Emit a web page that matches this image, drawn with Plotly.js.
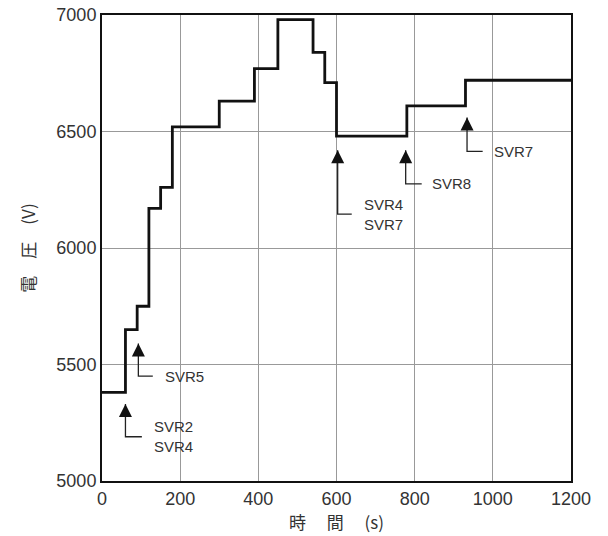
<!DOCTYPE html>
<html>
<head>
<meta charset="utf-8">
<script src="https://cdn.plot.ly/plotly-3.0.1.min.js"></script>
<style>html,body{margin:0;padding:0;background:#fff;}</style>
</head>
<body>
<div id="chart" style="width:608px;height:536px;"></div>
<script>
// Step changes of the voltage (time in s, voltage in V)
const times = [0, 60, 90, 120, 150, 180, 300, 390, 450, 540, 570, 600, 780, 930, 1200];
const volts = [5380, 5650, 5750, 6170, 6260, 6520, 6630, 6770, 6980, 6840, 6710, 6480, 6610, 6720, 6720];

// SVR operation markers
const markerLabels = ['SVR2<br>SVR4', 'SVR5', 'SVR4<br>SVR7', 'SVR8', 'SVR7'];
const markerTime   = [60, 93, 603, 777, 934];
const markerHeadV  = [5330, 5590, 6420, 6420, 6560];
const markerTailV  = [5190, 5450, 6145, 6275, 6415];
const markerElbowT = [102, 130, 639, 818, 974];
const markerTextT  = [128, 156, 665, 839, 997];

const xTicks = [0, 200, 400, 600, 800, 1000, 1200];
const yTicks = [5000, 5500, 6000, 6500, 7000];

const traces = [{
  x: times, y: volts, type: 'scatter', mode: 'lines',
  line: {shape: 'hv', color: '#111', width: 2.8},
  hoverinfo: 'skip', showlegend: false
}];

const annotations = [];
for (let i = 0; i < markerLabels.length; i++) {
  traces.push({
    x: [markerElbowT[i], markerTime[i], markerTime[i]],
    y: [markerTailV[i], markerTailV[i], markerHeadV[i]],
    type: 'scatter', mode: 'lines',
    line: {color: '#222', width: 1.3},
    hoverinfo: 'skip', showlegend: false
  });
  traces.push({
    x: [markerTime[i]], y: [markerHeadV[i]],
    type: 'scatter', mode: 'markers',
    marker: {symbol: 'arrow-up', size: 13, color: '#111', line: {width: 0}},
    hoverinfo: 'skip', showlegend: false
  });
  annotations.push({
    x: markerTextT[i], y: markerTailV[i], xref: 'x', yref: 'y',
    text: markerLabels[i], showarrow: false,
    xanchor: 'left', yanchor: 'middle', align: 'left',
    font: {family: 'Liberation Sans, Arial, sans-serif', size: 15, color: '#333'}
  });
}

const layout = {
  width: 608, height: 536,
  margin: {l: 102, r: 37, t: 15, b: 55},
  paper_bgcolor: '#fff', plot_bgcolor: '#fff',
  showlegend: false,
  font: {family: 'Liberation Sans, Arial, sans-serif', color: '#333'},
  xaxis: {
    range: [0, 1200], tickvals: xTicks, ticktext: xTicks.map(String),
    showgrid: true, gridcolor: '#999', gridwidth: 1,
    zeroline: false, showline: true, linecolor: '#111', linewidth: 2, mirror: true,
    ticks: '', tickfont: {size: 18, color: '#333'},
    title: {text: '時　&nbsp;間　&nbsp;(s)', standoff: 10,
      font: {family: 'Noto Sans CJK JP, sans-serif', size: 17, color: '#333'}},
    automargin: false, fixedrange: true
  },
  yaxis: {
    range: [5000, 7000], tickvals: yTicks, ticktext: yTicks.map(String),
    showgrid: true, gridcolor: '#999', gridwidth: 1,
    zeroline: false, showline: true, linecolor: '#111', linewidth: 2, mirror: true,
    ticks: '', tickfont: {size: 18, color: '#333'},
    title: {text: '電　圧　(V)', standoff: 16,
      font: {family: 'Noto Sans CJK JP, sans-serif', size: 17, color: '#333'}},
    automargin: false, fixedrange: true
  },
  annotations: annotations
};

Plotly.newPlot('chart', traces, layout, {displayModeBar: false, staticPlot: true});
</script>
</body>
</html>
